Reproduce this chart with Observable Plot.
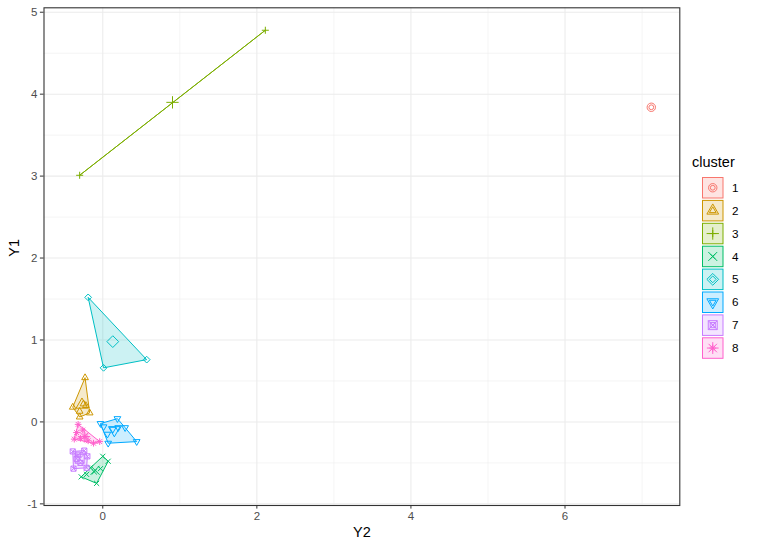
<!DOCTYPE html>
<html>
<head>
<meta charset="utf-8">
<script src="https://cdn.jsdelivr.net/npm/d3@7"></script>
<script src="https://cdn.jsdelivr.net/npm/@observablehq/plot@0.6"></script>
<style>
  html, body { margin: 0; padding: 0; background: #fff; }
  #wrap { position: relative; width: 760px; height: 550px; font-family: "Liberation Sans", Arial, sans-serif; }
  #legend { position: absolute; left: 690px; top: 145px; }
</style>
</head>
<body>
<div id="wrap"><div id="chart"></div><div id="legend"></div></div>
<script>
// ---- data ----
const clusters = ["1", "2", "3", "4", "5", "6", "7", "8"];
const colors = ["#F8766D", "#CD9600", "#7CAE00", "#00BE67", "#00BFC4", "#00A9FF", "#C77CFF", "#FF61CC"];

const pointCluster = [
  "1",
  "2", "2", "2", "2", "2", "2", "2",
  "3", "3",
  "4", "4", "4", "4", "4", "4", "4", "4",
  "5", "5", "5",
  "6", "6", "6", "6", "6", "6", "6", "6", "6",
  "7", "7", "7", "7", "7", "7", "7", "7",
  "8", "8", "8", "8", "8", "8", "8", "8", "8"
];
const pointY2 = [
  7.12,
  -0.23, -0.39, -0.17, -0.30, -0.25, -0.22, -0.30,
  -0.30, 2.11,
  -0.28, -0.08, 0.07, 0.00, -0.16, -0.11, -0.21, -0.03,
  -0.19, 0.57, 0.01,
  0.19, -0.03, 0.01, 0.20, 0.07, 0.44, 0.29, 0.06, 0.13,
  -0.39, -0.24, -0.20, -0.21, -0.38, -0.34, -0.29, -0.32,
  -0.32, -0.34, -0.26, -0.22, -0.29, -0.37, -0.12, -0.04, -0.19
];
const pointY1 = [
  3.84,
  0.54, 0.18, 0.11, 0.06, 0.22, 0.20, 0.13,
  3.01, 4.78,
  -0.67, -0.75, -0.48, -0.42, -0.56, -0.61, -0.64, -0.57,
  1.52, 0.76, 0.66,
  0.04, -0.02, -0.06, -0.07, -0.26, -0.24, -0.07, -0.15, -0.09,
  -0.36, -0.35, -0.42, -0.56, -0.57, -0.45, -0.50, -0.40,
  -0.03, -0.13, -0.10, -0.18, -0.20, -0.21, -0.26, -0.24, -0.23
];
const centerY2 = [7.12, -0.27, 0.905, -0.10, 0.13, 0.15, -0.30, -0.24];
const centerY1 = [3.84, 0.21, 3.90, -0.59, 0.98, -0.10, -0.45, -0.18];

const xTicks = [0, 2, 4, 6];
const yTicks = [-1, 0, 1, 2, 3, 4, 5];
const xMinor = [1, 3, 5, 7];
const yMinor = [-0.5, 0.5, 1.5, 2.5, 3.5, 4.5];

// ---- build tables ----
const points = pointCluster.map((c, i) => ({cluster: c, Y2: pointY2[i], Y1: pointY1[i]}));
const centers = clusters.map((c, i) => ({cluster: c, Y2: centerY2[i], Y1: centerY1[i]}));

// ---- ggplot-like symbols (r = half extent) ----
const R = (size) => Math.sqrt(size / Math.PI);
const symbols = [
  {draw(ctx, s) { const r = R(s) * 0.75; ctx.moveTo(r, 0); ctx.arc(0, 0, r, 0, 2 * Math.PI); ctx.closePath(); }},
  {draw(ctx, s) { const r = R(s); ctx.moveTo(0, -r * 1.2); ctx.lineTo(r * 1.05, r * 0.62); ctx.lineTo(-r * 1.05, r * 0.62); ctx.closePath(); }},
  {draw(ctx, s) { const r = R(s) * 1.1; ctx.moveTo(-r, 0); ctx.lineTo(r, 0); ctx.moveTo(0, -r); ctx.lineTo(0, r); }},
  {draw(ctx, s) { const r = R(s) * 0.8; ctx.moveTo(-r, -r); ctx.lineTo(r, r); ctx.moveTo(-r, r); ctx.lineTo(r, -r); }},
  {draw(ctx, s) { const r = R(s) * 1.05; ctx.moveTo(0, -r); ctx.lineTo(r, 0); ctx.lineTo(0, r); ctx.lineTo(-r, 0); ctx.closePath(); }},
  {draw(ctx, s) { const r = R(s); ctx.moveTo(0, r * 1.2); ctx.lineTo(r * 1.05, -r * 0.62); ctx.lineTo(-r * 1.05, -r * 0.62); ctx.closePath(); }},
  {draw(ctx, s) { const r = R(s) * 0.8; ctx.moveTo(-r, -r); ctx.lineTo(r, -r); ctx.lineTo(r, r); ctx.lineTo(-r, r); ctx.closePath(); ctx.moveTo(-r, -r); ctx.lineTo(r, r); ctx.moveTo(-r, r); ctx.lineTo(r, -r); }},
  {draw(ctx, s) { const r = R(s) * 1.05, d = r * 0.72; ctx.moveTo(-r, 0); ctx.lineTo(r, 0); ctx.moveTo(0, -r); ctx.lineTo(0, r); ctx.moveTo(-d, -d); ctx.lineTo(d, d); ctx.moveTo(-d, d); ctx.lineTo(d, -d); }}
];
const smallR = 3.2, bigR = 5.6;

const colorScale = {domain: clusters, range: colors};
const fmt = d => String(d);

const marks = [
  Plot.ruleX(xMinor, {stroke: "#ebebeb", strokeWidth: 0.55}),
  Plot.ruleY(yMinor, {stroke: "#ebebeb", strokeWidth: 0.55}),
  Plot.ruleX(xTicks, {stroke: "#ebebeb", strokeWidth: 1.07}),
  Plot.ruleY(yTicks, {stroke: "#ebebeb", strokeWidth: 1.07}),
  Plot.hull(points, {x: "Y2", y: "Y1", z: "cluster", fill: "cluster", stroke: "cluster", fillOpacity: 0.2, strokeWidth: 1})
];
clusters.forEach((c, i) => {
  marks.push(Plot.dot(points.filter(d => d.cluster === c), {x: "Y2", y: "Y1", r: smallR, symbol: symbols[i], stroke: colors[i], fill: "none", strokeWidth: 1}));
  marks.push(Plot.dot(centers.filter(d => d.cluster === c), {x: "Y2", y: "Y1", r: bigR, symbol: symbols[i], stroke: colors[i], fill: "none", strokeWidth: 1}));
});
marks.push(
  Plot.frame({stroke: "#333333", strokeWidth: 1.1}),
  Plot.axisX(xTicks, {tickSize: 3.6, tickPadding: 3, stroke: "#333333", fill: "#4d4d4d", fontSize: 11.5, label: null, tickFormat: fmt}),
  Plot.axisY(yTicks, {tickSize: 3.6, tickPadding: 3, stroke: "#333333", fill: "#4d4d4d", fontSize: 11.5, label: null, tickFormat: fmt}),
  Plot.text(["Y2"], {frameAnchor: "bottom", dy: 31, fontSize: 14.5, fill: "black"}),
  Plot.text(["Y1"], {frameAnchor: "left", dx: -29.5, rotate: -90, fontSize: 14.5, fill: "black"})
);

const chart = Plot.plot({
  width: 760,
  height: 550,
  marginLeft: 43.5,
  marginRight: 80.7,
  marginTop: 7.3,
  marginBottom: 45,
  style: {fontFamily: "'Liberation Sans', Arial, sans-serif", background: "white"},
  x: {domain: [-0.763, 7.49], axis: null},
  y: {domain: [-1.02, 5.054], axis: null},
  color: colorScale,
  marks
});
document.getElementById("chart").appendChild(chart);

// ---- legend ----
const lg = d3.select("#legend").append("svg").attr("width", 70).attr("height", 230)
  .style("font-family", "'Liberation Sans', Arial, sans-serif");
lg.append("text").attr("x", 2).attr("y", 21.5).attr("font-size", 14.5).attr("fill", "black").text("cluster");
clusters.forEach((c, i) => {
  const y0 = 32 + i * 22.9;
  const g = lg.append("g").attr("transform", `translate(12,${y0})`);
  g.append("rect").attr("x", 0.5).attr("y", 0.5).attr("width", 20.5).attr("height", 20.5)
    .attr("fill", colors[i]).attr("fill-opacity", 0.2).attr("stroke", colors[i]).attr("stroke-width", 1);
  const big = d3.symbol(symbols[i], Math.PI * bigR * bigR)();
  const small = d3.symbol(symbols[i], Math.PI * smallR * smallR)();
  g.append("path").attr("d", big).attr("transform", "translate(10.75,10.75)").attr("fill", "none").attr("stroke", colors[i]);
  g.append("path").attr("d", small).attr("transform", "translate(10.75,10.75)").attr("fill", "none").attr("stroke", colors[i]);
  lg.append("text").attr("x", 42).attr("y", y0 + 10.75).attr("dy", "0.35em").attr("font-size", 11.7).attr("fill", "black").text(c);
});
</script>
</body>
</html>
